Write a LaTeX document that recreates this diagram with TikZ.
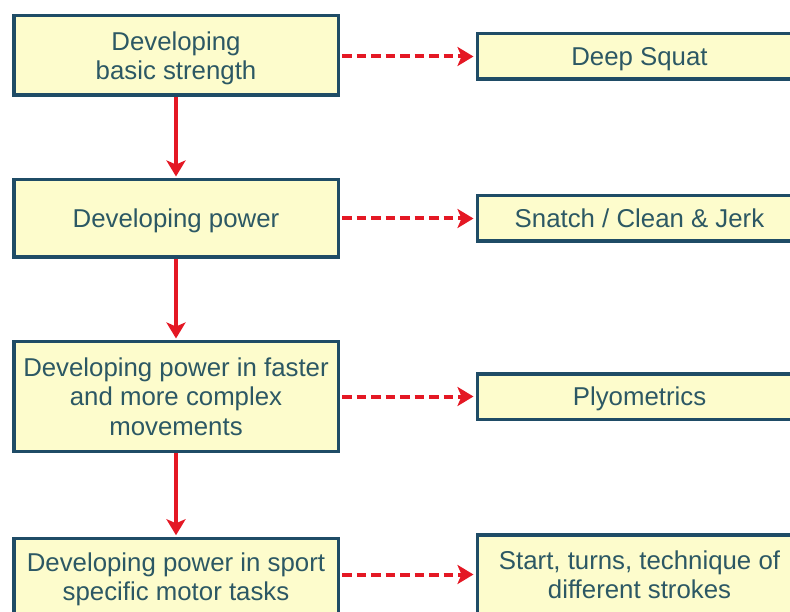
\documentclass[tikz,border=0pt]{standalone}
\usepackage{fontspec}
\setmainfont{Liberation Sans}
\usetikzlibrary{arrows.meta}
\definecolor{boxfill}{RGB}{253,252,204}
\definecolor{boxline}{RGB}{31,76,102}
\definecolor{boxtext}{RGB}{44,88,100}
\definecolor{flowred}{RGB}{228,24,36}
\begin{document}
\begin{tikzpicture}[x=1pt,y=-1pt,
  boxtxt/.style={text=boxtext, align=center, inner sep=0pt, text depth=0pt,
    font=\fontsize{25.8}{29.5}\selectfont},
  box/.style={boxtxt, draw=boxline, line width=3.5pt, fill=boxfill,
    minimum width=324.5pt},
  flow/.style={draw=flowred, line width=4pt,
    -{Stealth[length=16pt,width=19pt,inset=4pt]}},
  link/.style={flow, dash pattern=on 9.5pt off 5pt,
    shorten <=2pt, shorten >=2pt}]
\path[use as bounding box, clip] (0,0) rectangle (790,612);

% left column: training stages
\node[box, minimum height=79.5pt]  (b1) at (176,55.5)  {Developing\\basic strength};
\node[box, minimum height=77.5pt]  (b2) at (176,218.5) {Developing power};
\node[box, minimum height=109.5pt] (b3) at (176,396.5) {Developing power in faster\\and more complex\\movements};
\node[box, minimum height=76pt]    (b4) at (176,576.5) {Developing power in sport\\specific motor tasks};

% right column: exercises
\node[box, minimum height=45.5pt] (r1) at (639.5,56.5)  {Deep Squat};
\node[box, minimum height=45.5pt] (r2) at (639.5,218.5) {Snatch / Clean \& Jerk};
\node[box, minimum height=45.5pt] (r3) at (639.5,396.5) {Plyometrics};
\node[box, minimum height=79.5pt] (r4) at (639.5,574.5) {Start, turns, technique of\\different strokes};

% progression between stages
\draw[flow, shorten >=1.5pt] (b1.south) -- (b2.north);
\draw[flow, shorten >=1.5pt] (b2.south) -- (b3.north);
\draw[flow, shorten >=1.5pt] (b3.south) -- (b4.north);

% stage to exercise
\draw[link] (r1.west -| b1.east) -- (r1.west);
\draw[link] (r2.west -| b2.east) -- (r2.west);
\draw[link] (r3.west -| b3.east) -- (r3.west);
\draw[link] (r4.west -| b4.east) -- (r4.west);
\end{tikzpicture}
\end{document}
